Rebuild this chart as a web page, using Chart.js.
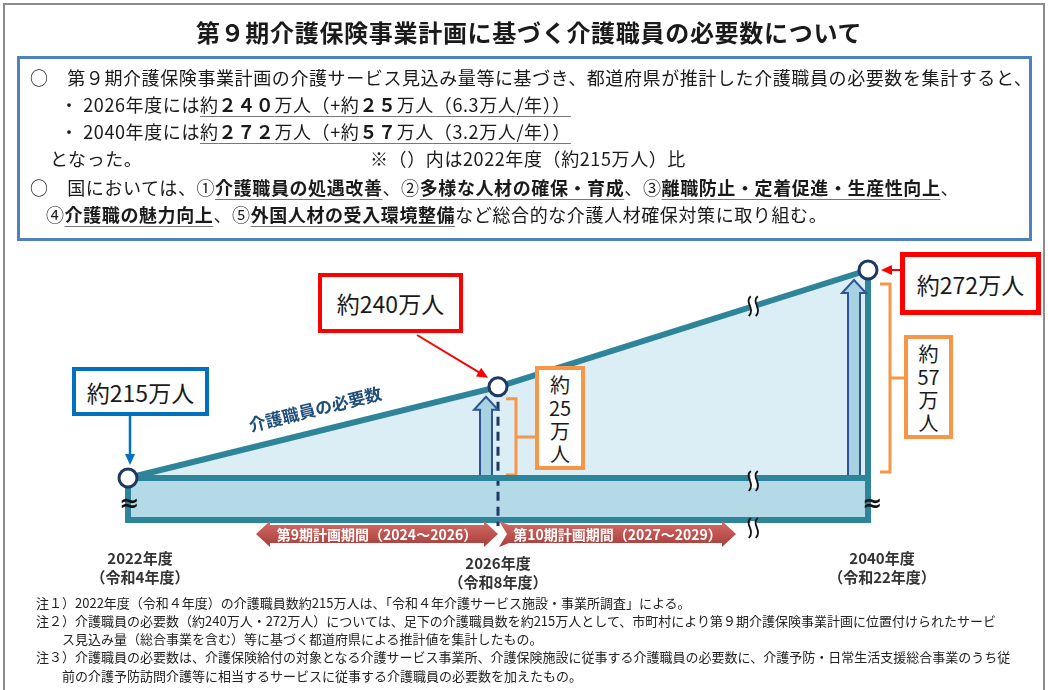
<!DOCTYPE html>
<html lang="ja">
<head>
<meta charset="UTF-8">
<title>第９期介護保険事業計画に基づく介護職員の必要数について</title>
<script src="https://cdn.jsdelivr.net/npm/chart.js@4.4.1/dist/chart.umd.min.js"></script>
<style>
  body { margin: 0; background: #fff; font-family: "Noto Sans CJK JP", "Noto Sans", sans-serif; color: #1a1a1a; }
  #page { position: relative; width: 1048px; height: 690px; overflow: hidden; }
  #frame { position: absolute; left: 3px; top: 3px; width: 1038px; height: 700px; border: 2px solid #8c8c8c; }
  #chart { position: absolute; left: 0; top: 0; }
  h1 { position: absolute; left: 0; width: 1058px; top: 14px; margin: 0; text-align: center;
       font-size: 24px; font-weight: bold; letter-spacing: 0.7px; line-height: 36px; }
  #info { position: absolute; left: 17px; top: 56px; width: 1009px; height: 179px; border: 3px solid #4f81bd; background: #fff; }
  .ln { position: absolute; white-space: nowrap; font-size: 18px; line-height: 26px; letter-spacing: 0.6px; }
  .ln u { text-decoration-color: #777; text-underline-offset: 4px; }
  .box { position: absolute; background: #fff; box-sizing: border-box; display: flex; align-items: center; justify-content: center; font-size: 23px; }
  .vbox { position: absolute; background: #fff; box-sizing: border-box; border: 4px solid #f79646; text-align: center; font-size: 20px; line-height: 23px; padding-top: 3px; }
  .note { position: absolute; white-space: nowrap; font-size: 13px; line-height: 18px; color: #222; }
</style>
</head>
<body>
<div id="page">
  <div id="frame"></div>
  <canvas id="chart" width="1048" height="690"></canvas>

  <h1>第９期介護保険事業計画に基づく介護職員の必要数について</h1>

  <div id="info"></div>
  <div class="ln" style="left:30px; top:64px;">○　第９期介護保険事業計画の介護サービス見込み量等に基づき、都道府県が推計した介護職員の必要数を集計すると、</div>
  <div class="ln" style="left:60px; top:91px;">・ 2026年度には<u>約<b>２４０</b>万人（+約<b>２５</b>万人（6.3万人/年））</u></div>
  <div class="ln" style="left:60px; top:118px;">・ 2040年度には<u>約<b>２７２</b>万人（+約<b>５７</b>万人（3.2万人/年））</u></div>
  <div class="ln" style="left:50px; top:145px;">となった。</div>
  <div class="ln" style="left:370px; top:145px;">※（）内は2022年度（約215万人）比</div>
  <div class="ln" style="left:30px; top:174px;">○　国においては、①<u><b>介護職員の処遇改善</b></u>、②<u><b>多様な人材の確保・育成</b></u>、③<u><b>離職防止・定着促進・生産性向上</b></u>、</div>
  <div class="ln" style="left:46px; top:201px;">④<u><b>介護職の魅力向上</b></u>、⑤<u><b>外国人材の受入環境整備</b></u>など総合的な介護人材確保対策に取り組む。</div>

  <div class="box" style="left:72px; top:367px; width:137px; height:49px; border:4px solid #0070c0;">約215万人</div>
  <div class="box" style="left:318px; top:273px; width:145px; height:60px; border:4px solid #ff0000;">約240万人</div>
  <div class="box" style="left:900px; top:252px; width:141px; height:63px; border:5px solid #ff0000;">約272万人</div>
  <div class="vbox" style="left:535px; top:366px; width:50px; height:104px;">約<br>25<br>万<br>人</div>
  <div class="vbox" style="left:904px; top:335px; width:49px; height:104px;">約<br>57<br>万<br>人</div>

  <div class="note" style="left:36px; top:594px;">注１）2022年度（令和４年度）の介護職員数約215万人は、「令和４年介護サービス施設・事業所調査」による。</div>
  <div class="note" style="left:36px; top:612px;">注２）介護職員の必要数（約240万人・272万人）については、足下の介護職員数を約215万人として、市町村により第９期介護保険事業計画に位置付けられたサービ</div>
  <div class="note" style="left:62px; top:630px;">ス見込み量（総合事業を含む）等に基づく都道府県による推計値を集計したもの。</div>
  <div class="note" style="left:36px; top:648px;">注３）介護職員の必要数は、介護保険給付の対象となる介護サービス事業所、介護保険施設に従事する介護職員の必要数に、介護予防・日常生活支援総合事業のうち従</div>
  <div class="note" style="left:62px; top:667px;">前の介護予防訪問介護等に相当するサービスに従事する介護職員の必要数を加えたもの。</div>
</div>

<script>
// data (万人)
const years = ['2022年度', '2026年度', '2040年度'];
const eras = ['（令和4年度）', '（令和8年度）', '（令和22年度）'];
const required = [215, 240, 272];
const current = [215, 215, 215];
const periods = ['第9期計画期間（2024～2026）', '第10期計画期間（2027～2029）'];
const lineLabel = '介護職員の必要数';

const TEAL = '#2e8499';
const NAVY = '#1f3864';
const ORANGE = '#f79646';

function lineArrow(ctx, xa, ya, xb, yb, color, w) {
    const ang = Math.atan2(yb - ya, xb - xa);
    ctx.strokeStyle = color;
    ctx.fillStyle = color;
    ctx.lineWidth = w;
    ctx.beginPath();
    ctx.moveTo(xa, ya);
    ctx.lineTo(xb - 8 * Math.cos(ang), yb - 8 * Math.sin(ang));
    ctx.stroke();
    ctx.beginPath();
    ctx.moveTo(xb, yb);
    ctx.lineTo(xb - 11 * Math.cos(ang) + 5 * Math.sin(ang), yb - 11 * Math.sin(ang) - 5 * Math.cos(ang));
    ctx.lineTo(xb - 11 * Math.cos(ang) - 5 * Math.sin(ang), yb - 11 * Math.sin(ang) + 5 * Math.cos(ang));
    ctx.closePath();
    ctx.fill();
}

function hollowArrow(ctx, cx, yBottom, yTop) {
    ctx.beginPath();
    ctx.moveTo(cx - 6, yBottom);
    ctx.lineTo(cx - 6, yTop + 13);
    ctx.lineTo(cx - 12, yTop + 13);
    ctx.lineTo(cx, yTop);
    ctx.lineTo(cx + 12, yTop + 13);
    ctx.lineTo(cx + 6, yTop + 13);
    ctx.lineTo(cx + 6, yBottom);
    ctx.closePath();
    ctx.fillStyle = '#a7d2e2';
    ctx.fill();
    ctx.strokeStyle = '#2f5597';
    ctx.lineWidth = 2;
    ctx.stroke();
}

function bracket(ctx, xl, yt, yb, tick) {
    const ym = (yt + yb) / 2;
    ctx.strokeStyle = ORANGE;
    ctx.lineWidth = 3;
    ctx.beginPath();
    ctx.moveTo(xl, yt);
    ctx.lineTo(xl + 10, yt);
    ctx.lineTo(xl + 10, yb);
    ctx.lineTo(xl, yb);
    ctx.moveTo(xl + 10, ym);
    ctx.lineTo(xl + 10 + tick, ym);
    ctx.stroke();
}

function squiggleBreak(ctx, cx, cy) {
    ctx.fillStyle = '#fff';
    ctx.fillRect(cx - 3, cy - 7, 6, 14);
    ctx.strokeStyle = '#111';
    ctx.lineWidth = 1.8;
    [-3.5, 3.5].forEach(dx => {
        ctx.beginPath();
        ctx.moveTo(cx + dx + 1, cy - 10);
        ctx.bezierCurveTo(cx + dx - 6, cy - 4, cx + dx + 6, cy + 2, cx + dx - 1, cy + 10);
        ctx.stroke();
    });
}

function periodArrow(ctx, x0, x1, yc, text, leftHead) {
    const hl = 14;
    ctx.beginPath();
    if (leftHead) {
        ctx.moveTo(x0, yc);
        ctx.lineTo(x0 + hl, yc - 13);
        ctx.lineTo(x0 + hl, yc - 9);
    } else {
        ctx.moveTo(x0 + 8, yc);
        ctx.lineTo(x0, yc - 13);
        ctx.lineTo(x0 + 10, yc - 9);
    }
    ctx.lineTo(x1 - hl, yc - 9);
    ctx.lineTo(x1 - hl, yc - 13);
    ctx.lineTo(x1, yc);
    ctx.lineTo(x1 - hl, yc + 13);
    ctx.lineTo(x1 - hl, yc + 9);
    if (leftHead) {
        ctx.lineTo(x0 + hl, yc + 9);
        ctx.lineTo(x0 + hl, yc + 13);
    } else {
        ctx.lineTo(x0 + 10, yc + 9);
        ctx.lineTo(x0, yc + 13);
    }
    ctx.closePath();
    const g = ctx.createLinearGradient(0, yc - 12, 0, yc + 12);
    g.addColorStop(0, '#d46a66');
    g.addColorStop(1, '#a93f3b');
    ctx.fillStyle = g;
    ctx.fill();
    ctx.fillStyle = '#fff';
    ctx.font = 'bold 14px "Noto Sans CJK JP"';
    ctx.textAlign = 'center';
    ctx.textBaseline = 'middle';
    ctx.fillText(text, (x0 + x1) / 2, yc + 1);
}

const diagram = {
    id: 'diagram',
    beforeDatasetsDraw(chart) {
        const {ctx, chartArea: a, scales: {x, y}} = chart;
        const xs = years.map((_, i) => x.getPixelForValue(i));
        const ys = required.map(v => y.getPixelForValue(v));
        const yBase = y.getPixelForValue(current[0]);
        ctx.save();
        ctx.strokeStyle = TEAL;
        ctx.lineWidth = 6;
        ctx.lineCap = 'square';
        ctx.beginPath();
        ctx.moveTo(xs[0], yBase);
        ctx.lineTo(xs[0], a.bottom);
        ctx.lineTo(xs[2], a.bottom);
        ctx.lineTo(xs[2], ys[2]);
        ctx.stroke();

        ctx.lineCap = 'butt';
        ctx.setLineDash([9, 6]);
        ctx.strokeStyle = NAVY;
        ctx.lineWidth = 3;
        ctx.beginPath();
        ctx.moveTo(xs[1], ys[1]);
        ctx.lineTo(xs[1], a.bottom + 6);
        ctx.stroke();
        ctx.setLineDash([]);

        hollowArrow(ctx, xs[1] - 12, yBase - 2, ys[1] + 10);
        hollowArrow(ctx, xs[2] - 14, yBase - 2, ys[2] + 10);

        bracket(ctx, xs[1] + 8, ys[1] + 12, yBase - 3, 22);
        bracket(ctx, xs[2] + 12, ys[2] + 14, yBase - 6, 14);
        ctx.restore();
    },
    afterDatasetsDraw(chart) {
        const {ctx, chartArea: a, scales: {x, y}} = chart;
        const xs = years.map((_, i) => x.getPixelForValue(i));
        const ys = required.map(v => y.getPixelForValue(v));
        const yBase = y.getPixelForValue(current[0]);
        ctx.save();

        // axis breaks
        const f = 0.69;
        const xb = xs[1] + f * (xs[2] - xs[1]);
        squiggleBreak(ctx, xb, ys[1] + f * (ys[2] - ys[1]));
        squiggleBreak(ctx, xb, yBase + 3);
        squiggleBreak(ctx, xb, a.bottom + 8);
        ctx.fillStyle = '#111';
        ctx.font = 'bold 24px "DejaVu Sans"';
        ctx.textAlign = 'center';
        ctx.textBaseline = 'middle';
        ctx.fillText('≈', xs[0] + 1, (yBase + a.bottom) / 2 + 6);
        ctx.fillText('≈', xs[2] + 4, (yBase + a.bottom) / 2 + 6);

        // callout arrows
        lineArrow(ctx, xs[0] + 2, 416, xs[0] + 2, yBase - 13, '#0070c0', 2.5);
        lineArrow(ctx, 417, 335, xs[1] - 10, ys[1] - 9, '#ff0000', 2);
        lineArrow(ctx, 900, ys[2], xs[2] + 13, ys[2], '#ff0000', 2);

        // plan periods
        periodArrow(ctx, xs[1] - 242, xs[1], a.bottom + 14, periods[0], true);
        periodArrow(ctx, xs[1] + 1, xs[1] + 238, a.bottom + 14, periods[1], false);

        // year labels
        ctx.fillStyle = '#333';
        ctx.font = 'bold 15px "Noto Sans CJK JP"';
        const dx = [12, 0, 14];
        const dy = [38, 43, 38];
        years.forEach((yr, i) => {
            ctx.fillText(yr, xs[i] + dx[i], a.bottom + dy[i]);
            ctx.fillText(eras[i], xs[i] + dx[i], a.bottom + dy[i] + 19);
        });

        // line label
        const ang = Math.atan2(ys[1] - yBase, xs[1] - xs[0]);
        const t = 0.52;
        const lx = xs[0] + t * (xs[1] - xs[0]) + 22 * Math.sin(ang);
        const ly = yBase + t * (ys[1] - yBase) - 22 * Math.cos(ang);
        ctx.translate(lx, ly);
        ctx.rotate(ang);
        ctx.fillStyle = '#1f4e79';
        ctx.font = 'bold 17px "Noto Sans CJK JP"';
        ctx.fillText(lineLabel, 0, 0);
        ctx.restore();
    }
};

new Chart(document.getElementById('chart'), {
    type: 'line',
    data: {
        labels: years,
        datasets: [{
            label: lineLabel,
            data: required,
            borderColor: TEAL,
            borderWidth: 6,
            backgroundColor: '#dbeef5',
            fill: '+1',
            tension: 0,
            clip: false,
            pointRadius: 9,
            pointBorderWidth: 3,
            pointBorderColor: NAVY,
            pointBackgroundColor: '#fff'
        }, {
            label: '現在の介護職員数',
            data: current,
            borderColor: TEAL,
            borderWidth: 6,
            backgroundColor: '#b4dae7',
            fill: 'start',
            clip: false,
            pointRadius: 0
        }]
    },
    options: {
        responsive: false,
        devicePixelRatio: 1,
        animation: false,
        layout: {padding: {left: 128, right: 180, top: 270, bottom: 170}},
        scales: {
            x: {display: false, offset: false},
            y: {display: false, min: 203.5, max: 272}
        },
        plugins: {
            legend: {display: false},
            tooltip: {enabled: false},
            filler: {drawTime: 'beforeDatasetsDraw'}
        }
    },
    plugins: [diagram]
});
</script>
</body>
</html>
